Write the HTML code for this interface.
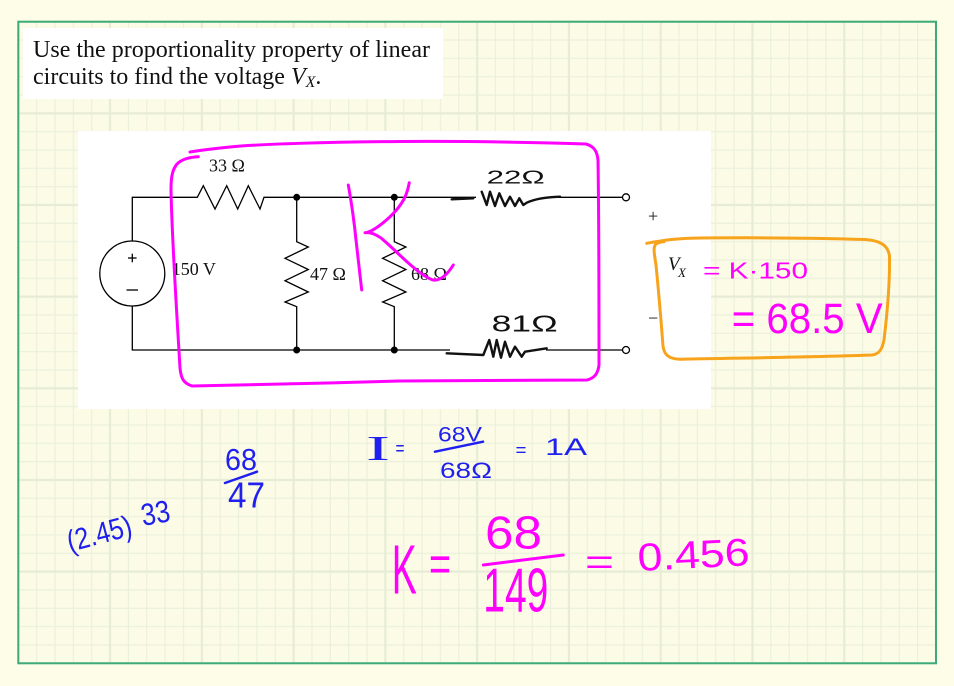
<!DOCTYPE html>
<html><head><meta charset="utf-8"><style>
html,body{margin:0;padding:0;background:#FDFDE7;}
svg{display:block;}
</style></head><body>
<svg width="954" height="686" viewBox="0 0 954 686" xmlns="http://www.w3.org/2000/svg">
<defs>
<pattern id="g" x="18.3" y="21.7" width="91.77" height="91.65" patternUnits="userSpaceOnUse">
<g stroke="#EAF0DC" stroke-width="1.2">
<line x1="18.35" y1="0" x2="18.35" y2="91.65"/>
<line x1="36.71" y1="0" x2="36.71" y2="91.65"/>
<line x1="55.06" y1="0" x2="55.06" y2="91.65"/>
<line x1="73.42" y1="0" x2="73.42" y2="91.65"/>
<line x1="0" y1="18.33" x2="91.77" y2="18.33"/>
<line x1="0" y1="36.66" x2="91.77" y2="36.66"/>
<line x1="0" y1="54.99" x2="91.77" y2="54.99"/>
<line x1="0" y1="73.32" x2="91.77" y2="73.32"/>
</g>
<g stroke="#E6ECD6" stroke-width="2.2">
<line x1="0" y1="0" x2="0" y2="91.65"/>
<line x1="91.77" y1="0" x2="91.77" y2="91.65"/>
<line x1="0" y1="0" x2="91.77" y2="0"/>
<line x1="0" y1="91.65" x2="91.77" y2="91.65"/>
</g>
</pattern>
</defs>
<rect width="954" height="686" fill="#FDFDE8"/>
<rect x="18.3" y="21.7" width="917.7" height="641.6" fill="#FCFCE6"/>
<rect x="18.3" y="21.7" width="917.7" height="641.6" fill="url(#g)" stroke="#3DAA78" stroke-width="2"/>

<!-- title -->
<rect x="23" y="28" width="420" height="71" fill="#fff"/>
<g font-family="'Liberation Serif', serif" font-size="24" fill="#111">
<text x="33" y="57" textLength="397" lengthAdjust="spacingAndGlyphs">Use the proportionality property of linear</text>
<text x="33" y="84">circuits to find the voltage <tspan font-style="italic">V</tspan><tspan font-style="italic" font-size="16" dy="3">X</tspan><tspan dy="-3">.</tspan></text>
</g>

<!-- circuit panel -->
<rect x="78" y="131" width="633" height="278" fill="#fff"/>
<g stroke="#000" stroke-width="1.3" fill="none">
<polyline points="132.3,241 132.3,197.3 197.3,197.3 203.3,185.7 215,209 226.7,185.7 237.7,209 248.3,185.7 260,209 264,197.3 476,197.3"/>
<line x1="558" y1="197.3" x2="622.5" y2="197.3"/>
<circle cx="626" cy="197.3" r="3.5"/>
<polyline points="132.3,306 132.3,350 450,350"/>
<line x1="546" y1="350" x2="622.5" y2="350"/>
<circle cx="626" cy="350" r="3.5"/>
<circle cx="132.3" cy="273.5" r="32.5"/>
<polyline points="296.7,197.3 296.7,241.7 308.3,247 285,258.3 308.3,269.5 285,280.7 308.3,292 285,302 296.7,306.7 296.7,350"/>
<polyline points="394.3,197.3 394.3,241.7 405.9,247 382.6,258.3 405.9,269.5 382.6,280.7 405.9,292 382.6,302 394.3,306.7 394.3,350"/>
<line x1="128" y1="258" x2="136.6" y2="258"/>
<line x1="132.3" y1="253.7" x2="132.3" y2="262.3"/>
<line x1="126.5" y1="290" x2="138" y2="290"/>
</g>
<g fill="#000">
<circle cx="296.7" cy="197.3" r="3.5"/>
<circle cx="296.7" cy="350" r="3.5"/>
<circle cx="394.3" cy="197.3" r="3.5"/>
<circle cx="394.3" cy="350" r="3.5"/>
</g>
<g font-family="'Liberation Serif', serif" font-size="18" fill="#111">
<text x="209" y="171.7">33 Ω</text>
<text x="171.7" y="275">150 V</text>
<text x="310" y="280">47 Ω</text>
<text x="411" y="280">68 Ω</text>
<text x="648" y="222">+</text>
<text x="648" y="324">−</text>
<text x="668" y="270" font-style="italic" font-size="19">V</text>
<text x="678" y="277" font-style="italic" font-size="13">X</text>
</g>

<!-- hand drawn resistors (black) -->
<g stroke="#111" stroke-width="2.4" fill="none" stroke-linecap="round" stroke-linejoin="round">
<path d="M451.7,199.3 L473.3,198.3"/>
<path d="M481.7,191.7 L486.7,205 L490,191.7 L495,206 L499.3,193.3 L505,206 L510,196.7 L515,206 L519.3,198.3 L523.3,205 L526.7,202.7 C535,199 548,197 560,196.7"/>
<path d="M446.7,353.3 L483.3,355 L489.3,340 L493.3,356.7 L496.7,340 L501,357.7 L505,341.7 L510,356.7 L515,346.7 L521.7,356.7 L525,351.7 L546.7,348.3"/>
</g>
<g font-family="'Liberation Sans', sans-serif" fill="#111">
<text x="486.7" y="183.3" font-size="18" textLength="58" lengthAdjust="spacingAndGlyphs">22Ω</text>
<text x="491.7" y="331.7" font-size="23" textLength="66" lengthAdjust="spacingAndGlyphs">81Ω</text>
</g>

<!-- magenta ink -->
<g stroke="#FF00FF" stroke-width="3" fill="none" stroke-linecap="round" stroke-linejoin="round">
<path d="M198.3,156.7 C190,157 182,159 177,164 C172,170 171,178 171,190 C172,240 176,300 180,368 C181,378 183,383 192,386 C250,385 330,383 400,381 C480,380.5 550,380.5 587,380 C595,378 598,373 599,365 C599,300 599,220 598,160 C597,150 593,146 586,144 C520,142 460,141 400,141.5 C330,142 260,144 230,147 C210,149 196,151 190,152"/>
<path d="M348.3,185 C351,200 354,220 356,240 C358,258 360,275 361.7,290"/>
<path d="M409.3,182.7 C408,190 406,197 401,204 C395,213 385,222 376,228 C370,232 366,233 365,232.7 C369,232 375,234 381,238 C392,247 402,258 413,267 C420,273 427,278 433,280 C440,281 447,275 453.3,265"/>
</g>
<g font-family="'Liberation Sans', sans-serif" fill="#FF00FF">
<text x="703" y="278.3" font-size="23" textLength="105" lengthAdjust="spacingAndGlyphs">= K·150</text>
<text x="731.7" y="333" font-size="43" textLength="151" lengthAdjust="spacingAndGlyphs">= 68.5 V</text>
<text x="391.7" y="593.3" font-size="70" textLength="25" lengthAdjust="spacingAndGlyphs">K</text>
<text x="429" y="581" font-size="50" textLength="22" lengthAdjust="spacingAndGlyphs">=</text>
<text x="485" y="548.3" font-size="46" textLength="57" lengthAdjust="spacingAndGlyphs">68</text>
<text x="483.3" y="611.7" font-size="62" textLength="65" lengthAdjust="spacingAndGlyphs">149</text>
<text x="585" y="574" font-size="35" textLength="29" lengthAdjust="spacingAndGlyphs">=</text>
<text transform="translate(638.3,571) rotate(-3)" font-size="39" textLength="112" lengthAdjust="spacingAndGlyphs">0.456</text>
</g>
<line x1="483.3" y1="565" x2="563.3" y2="555" stroke="#FF00FF" stroke-width="3" stroke-linecap="round"/>

<!-- orange box -->
<g stroke="#F7A31C" stroke-width="3" fill="none" stroke-linecap="round" stroke-linejoin="round">
<path d="M646.7,243.3 C665,240 680,238 700,238 C760,237.5 820,238 865,239.5 C880,240.5 888,245 889.5,256 C890,285 887,315 884,340 C882,350 879,354 872,355 C820,357 740,358 680,359.3 C668,359 664,354 663,346 C661,320 659,295 656,265 C654,252 653,247 656,244 C659,242 662,241.7 664,241.7"/>
</g>

<!-- blue ink -->
<g font-family="'Liberation Sans', sans-serif" fill="#1F1FEF">
<text transform="translate(70,552) rotate(-15)" font-size="30" textLength="66" lengthAdjust="spacingAndGlyphs">(2.45)</text>
<text transform="translate(143,526) rotate(-10)" font-size="31" textLength="29" lengthAdjust="spacingAndGlyphs">33</text>
<text x="225" y="470" font-size="31" textLength="32" lengthAdjust="spacingAndGlyphs">68</text>
<text x="228" y="507.5" font-size="36" textLength="37" lengthAdjust="spacingAndGlyphs">47</text>
<text x="366" y="460" font-family="'Liberation Serif', serif" font-size="35" textLength="24" lengthAdjust="spacingAndGlyphs">I</text>
<text x="395.5" y="455" font-size="20" textLength="9" lengthAdjust="spacingAndGlyphs">=</text>
<text x="438" y="441.7" font-size="21" textLength="44" lengthAdjust="spacingAndGlyphs">68V</text>
<text x="440" y="478" font-size="22" textLength="52" lengthAdjust="spacingAndGlyphs">68Ω</text>
<text x="515.5" y="456" font-size="18" textLength="11" lengthAdjust="spacingAndGlyphs">=</text>
<text x="545" y="455" font-size="24" textLength="42" lengthAdjust="spacingAndGlyphs">1A</text>
</g>
<g stroke="#1F1FEF" stroke-width="2.5" stroke-linecap="round">
<line x1="225" y1="483" x2="257" y2="471.7"/>
<line x1="435" y1="451.7" x2="483" y2="441.7"/>
</g>
</svg>
</body></html>
